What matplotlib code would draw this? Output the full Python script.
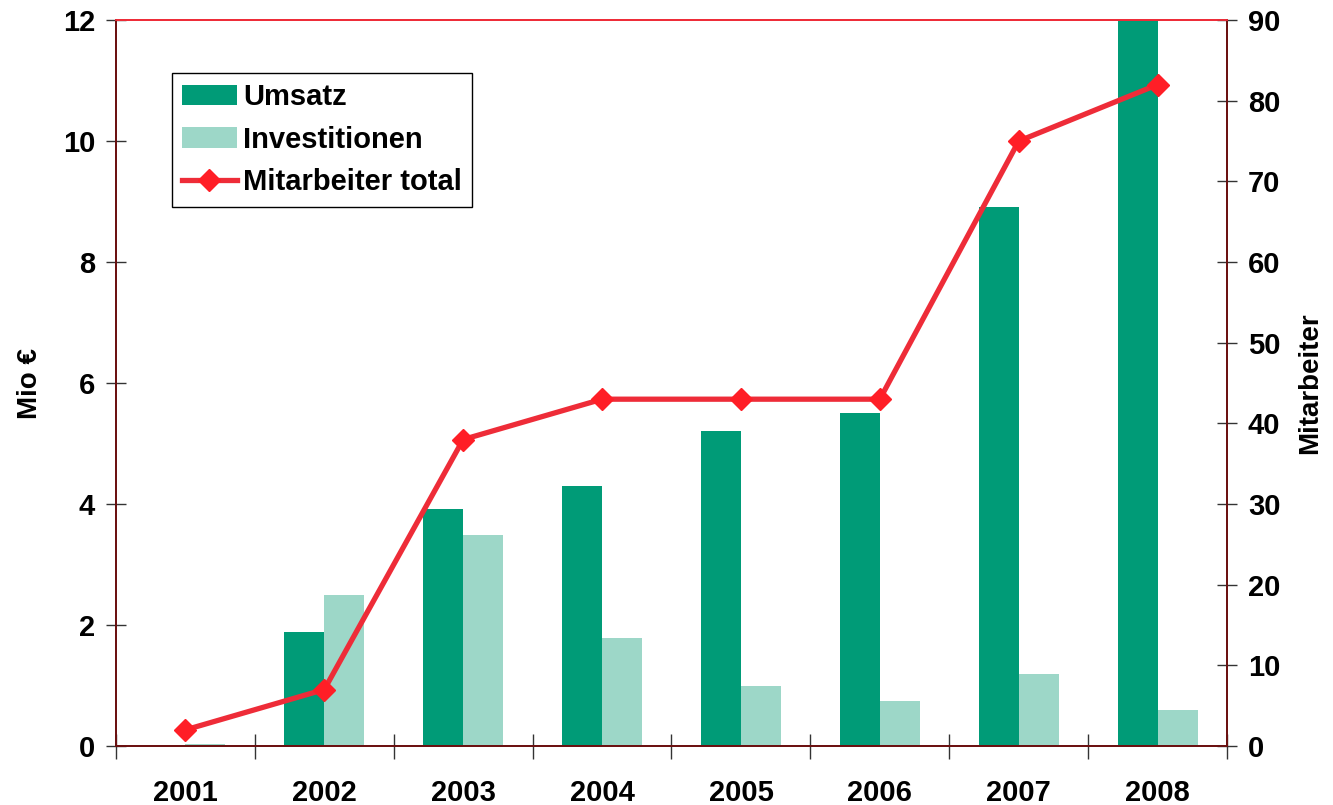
import numpy as np
import matplotlib
matplotlib.use("Agg")
import matplotlib.pyplot as plt
from matplotlib.lines import Line2D
from matplotlib.patches import Patch

plt.rcParams["font.family"] = ["Liberation Sans", "DejaVu Sans"]
plt.rcParams["font.weight"] = "bold"

# données
jahre        = ["2001", "2002", "2003", "2004", "2005", "2006", "2007", "2008"]
umsatz       = [0.0, 1.89, 3.92, 4.30, 5.21, 5.50, 8.91, 12.3]
investition  = [0.03, 2.50, 3.49, 1.79, 0.99, 0.74, 1.19, 0.60]
mitarbeiter  = [2, 7, 38, 43, 43, 43, 75, 82]

C_UMSATZ = "#009b77"
C_INVEST = "#9dd7c8"
C_LINE   = "#ee2c38"
C_MARK   = "#ff1e26"
C_SPINE  = "#6b1010"

fig = plt.figure(figsize=(13.33, 8.05), dpi=100, facecolor="white")
ax = fig.add_axes([0.087, 0.0733, 0.8335, 0.9017])
ax2 = ax.twinx()

x = np.arange(len(jahre))
bw = 0.288
ax.bar(x - bw / 2, umsatz, width=bw, color=C_UMSATZ, zorder=2)
ax.bar(x + bw / 2, investition, width=bw, color=C_INVEST, zorder=2)

ax.set_xlim(-0.5, len(jahre) - 0.5)
ax.set_ylim(0, 12)
ax.set_yticks(np.arange(0, 13, 2))
ax.set_xticks(np.arange(-0.5, len(jahre), 1.0))
ax.set_xticklabels([])
ax.set_xticks(x, minor=True)
ax.set_xticklabels(jahre, minor=True)
ax.tick_params(axis="x", which="minor", length=0, pad=24, labelsize=21)
ax.tick_params(axis="x", which="major", direction="inout", length=18,
               color="#333333", width=1)
ax.tick_params(axis="y", direction="inout", length=14, color="#333333",
               width=1, labelsize=21, pad=8)
ax.set_ylabel("Mio €", fontsize=20, fontweight="bold", labelpad=14)

ax2.plot(x, mitarbeiter, color=C_LINE, lw=3.8, marker="D", markersize=11,
         markerfacecolor=C_MARK, markeredgecolor=C_MARK, zorder=3)
ax2.set_ylim(0, 90)
ax2.set_yticks(np.arange(0, 91, 10))
ax2.tick_params(axis="y", direction="inout", length=14, color="#333333",
                width=1, labelsize=21, pad=8)
ax2.set_ylabel("Mitarbeiter", fontsize=20, fontweight="bold", labelpad=12)

for a in (ax, ax2):
    a.spines["left"].set_color(C_SPINE)
    a.spines["right"].set_color(C_SPINE)
    a.spines["bottom"].set_color(C_SPINE)
    a.spines["top"].set_color(C_LINE)
    for s in a.spines.values():
        s.set_linewidth(1.3)

handles = [
    Patch(facecolor=C_UMSATZ, label="Umsatz"),
    Patch(facecolor=C_INVEST, label="Investitionen"),
    Line2D([], [], color=C_LINE, lw=3.8, marker="D", markersize=11,
           markerfacecolor=C_MARK, markeredgecolor=C_MARK,
           label="Mitarbeiter total"),
]
leg = ax2.legend(handles=handles, loc="upper left",
                 bbox_to_anchor=(0.05, 0.927), fontsize=21, frameon=True,
                 fancybox=False, edgecolor="black", framealpha=1,
                 handlelength=1.9, handletextpad=0.2, borderpad=0.35,
                 borderaxespad=0, labelspacing=0.5)
leg.get_frame().set_linewidth(1.0)

fig.savefig("out.png", dpi=100)
